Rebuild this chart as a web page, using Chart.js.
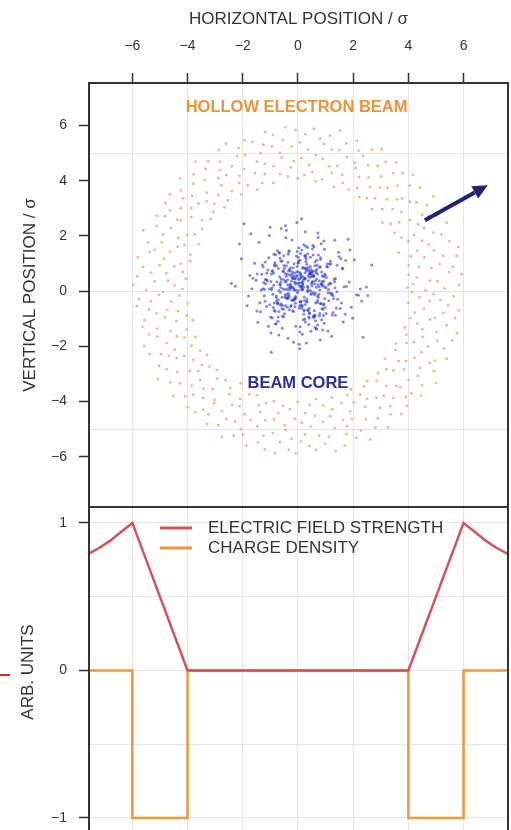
<!DOCTYPE html>
<html>
<head>
<meta charset="utf-8">
<script src="https://cdn.jsdelivr.net/npm/chart.js@4.4.1/dist/chart.umd.min.js"></script>
<style>
  html, body { margin: 0; padding: 0; background: #fff; overflow: hidden; }
  #wrap { position: relative; width: 511px; height: 830px; }
  #top { position: absolute; left: 0; top: 0; }
  #bot { position: absolute; left: 0; top: 507px; }
</style>
</head>
<body>
<div id="wrap">
  <canvas id="top" width="511" height="507"></canvas>
  <canvas id="bot" width="511" height="330"></canvas>
</div>
<script>
// ticks
const xTicks = [-6, -4, -2, 0, 2, 4, 6];
const yTicks = [-6, -4, -2, 0, 2, 4, 6];
const yGridTop = [-5, 0, 5];
const yTicksBottom = [-1, 0, 1];
const yGridBottom = [-1, -0.5, 0, 0.5, 1];

// beam core (sigma units)
const coreX = [0.23,-0.71,1.34,-0.08,0.52,-1.63,0.91,0.04,-0.42,2.12,-0.93,0.31,0.77,-1.18,0.15,-0.29,1.47,-0.56,0.44,-2.27,
0.68,-0.12,0.37,1.09,-0.84,0.02,-1.41,0.59,1.86,-0.35,0.13,-0.61,0.95,-0.19,2.48,-1.02,0.27,0.81,-0.47,1.22,
-0.66,0.09,1.58,-1.27,0.41,-0.03,0.73,-1.79,0.18,0.62,-0.38,1.14,-0.89,0.35,-0.14,1.71,-0.52,0.06,-2.05,0.88,
0.47,-1.09,0.21,1.39,-0.26,0.64,-0.77,0.11,2.31,-0.45,0.98,-1.36,0.28,-0.07,0.55,-0.98,1.62,0.17,-0.31,0.83,
-1.52,0.39,0.01,-0.64,1.27,-0.21,0.71,-1.13,0.46,1.93,-0.81,0.24,-0.36,1.05,-0.02,0.58,-1.71,0.33,0.87,-0.49,
0.14,1.44,-0.92,0.67,-0.17,2.67,-0.58,0.29,-1.24,0.76,0.05,-0.43,1.18,-0.73,0.49,-1.95,0.92,-0.11,0.36,1.61,
-0.27,0.53,-1.06,0.19,1.03,-0.54,0.84,-0.15,-1.48,0.42,1.76,-0.68,0.07,0.61,-0.33,1.31,-0.86,0.26,-2.41,0.72,
0.38,-0.79,1.11,0.03,-0.24,0.86,-1.33,0.57,2.04,-0.41,0.12,-0.97,0.69,-0.06,1.53,-0.62,0.32,-1.19,0.94,-0.13,
1.24,-0.46,0.08,-1.57,0.63,0.22,-0.74,1.67,-0.09,0.45,-1.01,0.79,-0.28,2.19,-0.65,0.16,0.99,-0.39,-1.84,0.54,
-0.18,0.74,-0.87,1.36,0.11,-0.53,0.89,-1.29,0.34,1.82,-0.23,0.48,-0.69,0.02,1.16,-1.45,0.66,-0.04,0.27,-0.94,
0.61,-1.14,1.49,-0.32,0.18,2.36,-0.76,0.43,-0.11,0.96,-1.67,0.25,0.71,-0.44,1.29,-0.09,-0.83,0.51,1.73,-0.57,
0.09,-0.34,0.82,-1.21,0.39,1.07,-0.62,0.14,-2.12,0.56,0.93,-0.16,1.42,-0.88,0.31,-0.51,0.64,1.98,-1.04,0.21,
-0.41,1.19,0.03,-0.72,0.58,-1.38,0.85,0.26,-0.19,1.56,-0.96,0.47,0.12,-0.61,2.53,-0.27,0.78,-1.11,0.35,0.06,
1.02,-0.52,0.29,-1.74,0.67,-0.08,1.33,-0.37,0.49,-0.99,0.17,1.88,-0.63,0.38,-1.26,0.81,0.01,-0.45,1.21,-0.22,
0.55,-0.86,0.13,1.64,-0.31,0.72,-1.49,0.24,0.97,-0.14,2.26,-0.69,0.41,-0.03,1.12,-1.17,0.62,-0.36,0.19,-0.78,
0.12,-0.45,0.78,-0.21,0.33,-0.88,0.56,0.04,-0.62,1.17,-0.15,0.41,-0.37,0.69,0.08,-1.03,0.27,-0.54,0.93,-0.09,
0.48,-0.73,0.16,0.82,-0.31,0.02,-0.96,0.59,1.24,-0.18,0.35,-0.67,0.71,-0.05,1.41,-0.49,0.22,0.61,-0.83,0.11,
-0.26,0.52,-1.14,0.37,0.86,-0.42,0.13,-0.71,0.47,1.02,-0.12,0.29,-0.58,0.76,-0.34,0.05,1.33,-0.91,0.24,-0.07,
0.64,-0.29,0.91,-0.52,0.18,-1.22,0.43,0.07,-0.39,0.84,-0.77,0.31,1.11,-0.16,0.57,-0.63,0.01,0.95,-0.44,0.26,
-0.11,0.68,-0.82,0.39,0.14,-0.56,1.06,-0.24,0.49,-1.31,0.21,0.73,-0.35,0.09,0.88,-0.69,0.34,-0.03,1.19,-0.47,
0.55,-0.19,0.27,-0.93,0.81,0.06,-0.61,0.44,-0.14,1.27,-0.38,0.62,-0.79,0.17,0.98,-0.27,0.36,-1.07,0.53,-0.08,
0.71,-0.51,0.19,0.87,-0.33,0.45,-0.74,0.03,1.09,-0.22,0.58,-0.98,0.28,-0.12,0.79,-0.57,0.15,1.36,-0.41,0.32,
-0.66,0.42,0.97,-0.28,0.11,-0.85,0.63,-0.04,0.38,-1.18,0.74,0.23,-0.47,0.92,-0.17,0.51,-0.72,0.07,0.66,-0.36];
const coreY = [-0.34,0.82,0.11,-1.27,1.53,0.47,-0.66,0.29,2.21,-0.13,0.74,-1.88,0.38,1.06,-0.52,0.05,1.41,-0.91,0.63,0.18,
1.12,-0.27,0.56,-1.44,0.91,0.02,1.77,-0.71,0.33,-0.08,2.62,0.44,-1.16,0.68,0.15,-0.49,1.29,0.87,-0.21,-1.63,
0.52,1.36,-0.43,0.09,-0.97,0.71,1.94,-0.18,0.26,-1.32,0.61,0.99,-0.59,1.58,0.03,-0.84,0.42,-2.09,1.17,0.35,
-0.12,0.77,1.68,-0.61,0.21,-1.07,0.93,0.48,-0.36,2.37,0.14,-0.75,1.24,-0.24,0.58,-1.52,0.83,0.07,1.46,-0.45,
0.39,-0.93,1.03,0.24,-0.17,1.85,-1.23,0.65,0.01,-0.58,1.32,0.46,-1.71,0.88,-0.06,0.57,2.08,-0.39,0.19,-0.82,
1.49,-0.29,0.72,-1.36,0.12,0.95,-0.64,1.63,0.31,-0.11,-1.92,0.54,1.08,-0.47,0.27,2.44,-0.88,0.66,-0.03,0.81,
-0.56,0.36,1.21,-1.04,0.49,0.08,1.72,-0.33,0.62,-0.79,0.17,1.38,-1.48,0.92,-0.14,0.43,-0.69,2.15,0.28,-0.41,
0.86,-1.18,0.23,1.57,-0.52,0.69,0.04,-0.96,1.14,-0.26,0.51,-2.21,0.79,1.27,-0.63,0.13,0.97,-0.37,1.82,0.32,
-0.09,0.64,-1.29,1.01,0.37,-0.68,1.46,0.16,-0.44,0.89,2.31,-0.81,0.25,-0.15,1.19,-1.56,0.58,0.06,-0.53,1.66,
0.45,-0.22,1.34,-0.87,0.18,0.73,-1.41,0.96,0.02,1.88,-0.32,0.54,-0.74,1.09,0.29,-1.13,0.67,2.49,-0.48,0.11,
-0.92,0.41,1.25,-0.19,0.83,-1.67,0.34,0.71,-0.57,1.52,0.09,-1.01,0.62,1.93,-0.28,0.47,-0.73,0.19,1.11,-1.34,
0.66,1.43,-0.46,0.07,-1.21,0.88,0.33,-0.62,1.71,-0.05,0.52,-1.85,0.94,0.21,-0.37,1.28,0.74,-0.98,2.02,0.14,
-0.25,0.98,0.43,-1.09,1.61,-0.42,0.26,0.85,-0.71,1.17,0.05,-1.45,0.59,2.27,-0.16,0.73,-0.89,0.38,1.35,-0.54,
0.12,-0.66,1.07,0.57,-1.38,0.31,1.84,-0.23,0.68,-0.94,0.22,1.49,-0.51,0.04,0.87,-1.76,1.23,0.36,-0.12,0.61,
1.31,-0.43,0.16,-1.12,0.78,2.11,-0.72,0.44,-0.27,0.99,0.08,-1.59,0.63,1.44,-0.35,0.27,-0.86,1.05,0.51,-0.18,
0.31,-0.52,0.87,0.14,-0.28,0.66,-0.91,0.43,1.08,-0.07,0.55,-0.63,0.22,0.94,-0.38,0.09,-1.12,0.71,0.36,-0.19,
0.78,-0.44,0.05,1.21,-0.67,0.29,0.62,-0.13,-0.86,0.47,0.18,1.39,-0.34,0.57,-0.02,0.83,-0.71,0.26,1.03,-0.49,
0.12,0.69,-0.56,0.38,-1.04,0.92,0.07,-0.31,0.64,-0.81,0.45,1.17,-0.22,0.16,0.73,-0.62,0.34,-0.11,1.28,0.03,
-0.42,0.58,0.21,-0.93,0.86,-0.17,0.49,1.12,-0.58,0.27,-0.36,0.81,0.06,-0.74,0.52,-0.04,1.01,-0.47,0.33,0.67,
-0.26,0.44,-1.19,0.76,0.15,-0.52,0.98,0.37,-0.09,0.61,-0.84,0.23,1.34,-0.39,0.56,0.02,-0.68,0.89,0.28,-0.14,
0.72,-0.33,0.47,-0.97,1.15,0.19,-0.46,0.63,0.08,-0.77,0.41,1.06,-0.24,0.32,-0.59,0.84,0.13,-1.27,0.54,0.25,
-0.18,0.93,0.39,-0.64,0.11,1.23,-0.43,0.68,-0.06,0.51,-0.89,0.35,0.79,-0.29,0.04,1.09,-0.55,0.46,-0.12,0.74,
0.24,-0.81,0.62,0.17,-0.37,0.96,-0.08,0.53,-0.71,0.42,1.31,-0.21,0.07,-0.48,0.85,0.31,-0.94,0.58,0.14,-0.27];

// hollow beam ring, angle (deg) and radius (sigma)
const ringTheta = [0.3,1.1,1.8,2.2,3.4,4.1,4.6,5.9,6.5,7.2,8.4,8.9,9.7,10.8,11.3,12.5,13.1,13.6,14.9,15.4,16.7,17.2,18.3,18.8,19.6,20.9,21.5,22.1,23.4,24.2,24.7,25.8,26.6,27.3,28.5,29.0,29.8,31.1,31.6,32.4,33.7,34.2,35.0,35.9,36.8,37.5,38.6,39.1,40.3,40.9,41.6,42.8,43.3,44.2,45.4,45.9,46.7,47.8,48.4,49.1,50.2,51.0,51.7,52.6,53.5,54.1,55.3,55.8,56.9,57.5,58.2,59.4,60.1,60.8,61.9,62.4,63.5,64.3,64.9,66.1,66.7,67.4,68.6,69.2,69.9,71.0,71.8,72.5,73.6,74.1,75.2,75.9,76.6,77.8,78.3,79.4,80.0,80.9,81.7,82.6,83.2,84.4,84.9,86.0,86.8,87.3,88.5,89.2,90.1,90.8,91.9,92.5,93.3,94.4,95.0,95.7,96.9,97.4,98.6,99.1,100.2,101.0,101.6,102.8,103.3,104.5,105.1,105.8,107.0,107.6,108.3,109.5,110.0,111.2,111.9,112.5,113.7,114.2,115.4,116.0,116.8,117.9,118.5,119.3,120.4,121.1,121.7,122.9,123.4,124.6,125.2,125.9,127.1,127.7,128.4,129.6,130.1,131.3,131.8,132.7,133.8,134.3,135.5,136.2,136.8,138.0,138.6,139.3,140.5,141.0,142.1,142.9,143.5,144.7,145.2,146.4,147.0,147.7,148.9,149.4,150.6,151.2,151.9,153.1,153.6,154.8,155.3,156.1,157.2,157.9,158.5,159.7,160.3,161.4,162.0,162.8,163.9,164.5,165.2,166.4,166.9,168.1,168.7,169.4,170.6,171.1,172.3,172.8,173.7,174.8,175.4,176.1,177.3,177.8,179.0,179.6,180.4,181.5,182.1,182.9,184.0,184.6,185.3,186.5,187.0,188.2,188.9,189.5,190.7,191.2,192.4,193.0,193.8,194.9,195.5,196.2,197.4,197.9,199.1,199.7,200.5,201.6,202.2,203.0,204.1,204.7,205.4,206.6,207.1,208.3,208.9,209.7,210.8,211.4,212.1,213.3,213.8,215.0,215.6,216.4,217.5,218.1,218.8,220.0,220.5,221.7,222.3,223.0,224.2,224.7,225.9,226.5,227.3,228.4,229.0,229.7,230.9,231.4,232.6,233.2,234.0,235.1,235.7,236.4,237.6,238.1,239.3,239.9,240.7,241.8,242.4,243.1,244.3,244.8,246.0,246.6,247.4,248.5,249.1,249.8,251.0,251.5,252.7,253.3,254.1,255.2,255.8,256.5,257.7,258.2,259.4,260.0,260.8,261.9,262.5,263.2,264.4,264.9,266.1,266.7,267.5,268.6,269.2,269.9,271.1,271.6,272.8,273.4,274.2,275.3,275.9,276.6,277.8,278.3,279.5,280.1,280.9,282.0,282.6,283.3,284.5,285.0,286.2,286.8,287.6,288.7,289.3,290.0,291.2,291.7,292.9,293.5,294.3,295.4,296.0,296.7,297.9,298.4,299.6,300.2,301.0,302.1,302.7,303.4,304.6,305.1,306.3,306.9,307.7,308.8,309.4,310.1,311.3,311.8,313.0,313.6,314.4,315.5,316.1,316.8,318.0,318.5,319.7,320.3,321.1,322.2,322.8,323.5,324.7,325.2,326.4,327.0,327.8,328.9,329.5,330.2,331.4,331.9,333.1,333.7,334.5,335.6,336.2,336.9,338.1,338.6,339.8,340.4,341.2,342.3,342.9,343.6,344.8,345.3,346.5,347.1,347.9,349.0,349.6,350.3,351.5,352.0,353.2,353.8,354.6,355.7,356.3,357.0,358.2,358.7,359.5];
const ringR = [4.62,5.31,3.97,5.84,4.18,5.07,4.79,5.96,4.33,5.52,4.05,5.68,4.91,5.23,4.47,5.89,4.12,5.41,4.74,6.03,
5.15,4.28,5.77,4.56,5.02,3.91,5.59,4.85,5.34,4.39,5.93,4.67,5.11,4.22,5.73,4.98,5.46,4.09,5.28,4.81,
5.62,4.43,5.99,4.15,5.36,4.72,5.19,3.94,5.81,4.54,5.05,4.89,5.57,4.26,5.92,4.63,5.25,4.01,5.71,4.95,
4.37,5.49,4.78,5.87,4.19,5.13,4.58,5.66,4.07,5.38,4.84,5.97,4.31,5.21,4.69,5.78,4.11,5.44,4.93,5.09,
5.54,4.24,5.85,4.51,5.17,3.99,5.63,4.76,5.32,4.45,6.01,4.66,5.27,4.14,5.75,4.87,5.42,4.03,5.58,4.97,
4.35,5.91,4.59,5.14,4.21,5.69,4.82,5.39,4.08,5.83,4.71,5.24,4.49,5.95,4.17,5.51,4.88,5.06,4.29,5.74,
5.33,4.61,5.88,4.02,5.45,4.77,5.18,4.41,5.65,4.92,4.13,5.79,4.55,5.29,3.96,5.61,4.83,5.37,4.25,5.94,
4.68,5.12,4.46,5.86,4.06,5.47,4.94,5.22,4.34,5.72,5.01,4.73,5.55,4.16,5.98,4.52,5.26,4.04,5.67,4.86,
4.38,5.43,4.64,5.9,4.2,5.16,4.8,5.6,4.1,5.35,4.9,5.82,4.32,5.2,4.7,5.76,4.14,5.48,4.96,5.08,
5.53,4.27,5.8,4.5,5.13,3.98,5.64,4.75,5.3,4.44,6.02,4.65,5.24,4.11,5.7,4.85,5.4,4.05,5.56,4.99,
4.36,5.93,4.57,5.1,4.23,5.68,4.81,5.37,4.09,5.85,4.72,5.21,4.48,5.97,4.18,5.5,4.89,5.04,4.3,5.77,
5.34,4.6,5.87,4.03,5.44,4.78,5.19,4.4,5.66,4.91,4.12,5.78,4.54,5.28,3.95,5.62,4.84,5.36,4.26,5.92,
4.69,5.11,4.45,5.84,4.07,5.46,4.95,5.23,4.33,5.71,5.02,4.74,5.54,4.15,5.99,4.53,5.27,4.02,5.69,4.87,
4.39,5.42,4.63,5.89,4.21,5.15,4.79,5.59,4.1,5.33,4.92,5.81,4.31,5.18,4.71,5.75,4.16,5.49,4.97,5.07,
5.52,4.28,5.83,4.49,5.14,3.93,5.65,4.76,5.31,4.43,5.96,4.67,5.25,4.13,5.73,4.86,5.41,4.06,5.57,4.98,
4.37,5.9,4.58,5.12,4.22,5.67,4.83,5.38,4.08,5.86,4.73,5.22,4.47,5.94,4.19,5.51,4.88,5.05,4.29,5.76,
5.35,4.62,5.88,4.01,5.45,4.77,5.2,4.42,5.63,4.93,4.14,5.79,4.56,5.29,3.97,5.61,4.82,5.39,4.24,5.95,
4.68,5.13,4.46,5.85,4.04,5.47,4.94,5.21,4.35,5.72,5.03,4.75,5.55,4.17,5.98,4.51,5.26,4.05,5.68,4.85,
4.38,5.44,4.64,5.91,4.2,5.16,4.8,5.58,4.11,5.34,4.9,5.82,4.32,5.19,4.7,5.74,4.15,5.48,4.96,5.09,
5.53,4.27,5.84,4.5,5.15,3.99,5.64,4.77,5.32,4.44,6.0,4.66,5.23,4.12,5.71,4.87,5.43,4.03,5.56,4.99,
4.36,5.92,4.59,5.11,4.23,5.69,4.81,5.36,4.09,5.87,4.72,5.24,4.48,5.96,4.18,5.52,4.89,5.06,4.3,5.78,
5.33,4.61,5.86,4.02,5.46,4.78,5.17,4.41,5.65,4.92,4.13,5.8,4.55,5.28,3.96,5.6,4.84,5.37,4.25,5.93,
4.69,5.12,4.45,5.83,4.06,5.45,4.95,5.22,4.34,5.7,5.01,4.74,5.54,4.16,5.97,4.52,5.27,4.04,5.66,4.86,
4.4,5.41,4.63,5.89,4.21,5.14,4.79,5.57];

// lower panel lines
const seriesNames = ["ELECTRIC FIELD STRENGTH", "CHARGE DENSITY"];
const fieldX = [-7.6, -7.2, -6.8, -6.4, -6, -4, 4, 6, 6.4, 6.8, 7.2, 7.6];
const fieldY = [0.79, 0.83, 0.88, 0.94, 1, 0, 0, 1, 0.94, 0.88, 0.83, 0.79];
const chargeX = [-7.6, -6, -6, -4, -4, 4, 4, 6, 6, 7.6];
const chargeY = [0, 0, -1, -1, 0, 0, -1, -1, 0, 0];

const FONT = "'Liberation Sans', Arial, Helvetica, sans-serif";
Chart.defaults.font.family = FONT;
Chart.defaults.color = '#333';

const GRID = '#e4e4e4';
const INK = '#333333';
const X_MIN = -7.57, X_MAX = 7.61;

function fmt(v) {
  return v < 0 ? '\u2212' + Math.abs(v) : String(v);
}

// axis sizes are fixed by hand, no extra room for tick labels
function fixSize(w, h) {
  return ax => {
    if (w !== null) ax.width = w;
    if (h !== null) ax.height = h;
    ax.paddingTop = 0;
    ax.paddingBottom = 0;
    ax.paddingLeft = 0;
    ax.paddingRight = 0;
  };
}

// frame + labels + arrow on upper panel
const topDecor = {
  id: 'topDecor',
  afterDatasetsDraw(chart) {
    const { ctx, chartArea: a, scales: { x, y } } = chart;
    ctx.save();
    ctx.font = 'bold 16.5px ' + FONT;
    ctx.textAlign = 'center';
    ctx.textBaseline = 'middle';
    ctx.fillStyle = '#f0923a';
    ctx.fillText('HOLLOW ELECTRON BEAM', x.getPixelForValue(-0.05), y.getPixelForValue(6.67));
    ctx.fillStyle = '#2b2f9e';
    ctx.fillText('BEAM CORE', x.getPixelForValue(0), y.getPixelForValue(-3.33));

    // arrow
    const x0 = x.getPixelForValue(4.6), y0 = y.getPixelForValue(2.57);
    const x1 = x.getPixelForValue(6.88), y1 = y.getPixelForValue(3.84);
    const ang = Math.atan2(y1 - y0, x1 - x0);
    const hl = 15, hw = 7;
    const bx = x1 - hl * Math.cos(ang), by = y1 - hl * Math.sin(ang);
    ctx.strokeStyle = '#1b2372';
    ctx.fillStyle = '#1b2372';
    ctx.lineWidth = 4;
    ctx.beginPath();
    ctx.moveTo(x0, y0);
    ctx.lineTo(bx, by);
    ctx.stroke();
    ctx.beginPath();
    ctx.moveTo(x1, y1);
    ctx.lineTo(bx + hw * Math.sin(ang), by - hw * Math.cos(ang));
    ctx.lineTo(bx - hw * Math.sin(ang), by + hw * Math.cos(ang));
    ctx.closePath();
    ctx.fill();

    ctx.strokeStyle = INK;
    ctx.lineWidth = 2;
    ctx.strokeRect(a.left, a.top, a.right - a.left, a.bottom - a.top);
    ctx.restore();
  }
};

// frame + legend on lower panel
const botDecor = {
  id: 'botDecor',
  afterDatasetsDraw(chart) {
    const { ctx, chartArea: a } = chart;
    ctx.save();
    ctx.font = '17px ' + FONT;
    ctx.textBaseline = 'middle';
    chart.data.datasets.forEach((ds, i) => {
      const ly = a.top + 21 + i * 20;
      ctx.strokeStyle = ds.borderColor;
      ctx.lineWidth = 3;
      ctx.beginPath();
      ctx.moveTo(a.left + 71, ly);
      ctx.lineTo(a.left + 103, ly);
      ctx.stroke();
      ctx.fillStyle = INK;
      ctx.fillText(ds.label, a.left + 119, ly);
    });
    ctx.strokeStyle = INK;
    ctx.lineWidth = 2;
    ctx.strokeRect(a.left, a.top, a.right - a.left, a.bottom - a.top);
    // small red mark left of the axis
    ctx.strokeStyle = '#e3261c';
    ctx.beginPath();
    ctx.moveTo(0, 168);
    ctx.lineTo(10, 168);
    ctx.stroke();
    ctx.restore();
  }
};

const ringPts = [];
for (let i = 0; i < Math.min(ringTheta.length, ringR.length); i++) {
  const t = ringTheta[i] * Math.PI / 180;
  ringPts.push({ x: ringR[i] * Math.cos(t), y: ringR[i] * Math.sin(t) });
}
const corePts = coreX.map((v, i) => ({ x: v, y: coreY[i] }));

new Chart(document.getElementById('top'), {
  type: 'scatter',
  data: {
    datasets: [
      { label: 'beam core', data: corePts, pointRadius: 1.5, pointBorderWidth: 0, backgroundColor: 'rgba(45,60,200,0.6)' },
      { label: 'hollow beam', data: ringPts, pointRadius: 1.4, pointBorderWidth: 0, backgroundColor: 'rgba(240,145,70,0.65)' }
    ]
  },
  options: {
    responsive: false,
    animation: false,
    events: [],
    layout: { autoPadding: false, padding: { left: 0, right: 3, top: 0, bottom: 0 } },
    plugins: { legend: { display: false }, tooltip: { enabled: false } },
    scales: {
      x: {
        type: 'linear', position: 'top', min: X_MIN, max: X_MAX,
        afterBuildTicks: ax => { ax.ticks = xTicks.map(v => ({ value: v })); },
        afterFit: fixSize(null, 83),
        border: { display: false },
        grid: { color: GRID, tickColor: INK, tickLength: 10, tickWidth: 1.5 },
        ticks: { font: { size: 14 }, color: INK, padding: 18, maxRotation: 0, callback: fmt },
        title: { display: true, text: 'HORIZONTAL POSITION / \u03c3', font: { size: 17 }, color: INK, padding: { top: 9, bottom: 0 } }
      },
      y: {
        type: 'linear', position: 'left', min: -7.82, max: 7.54, weight: 1,
        afterBuildTicks: ax => { ax.ticks = yTicks.map(v => ({ value: v })); },
        afterFit: fixSize(89, null),
        border: { display: false },
        grid: { drawOnChartArea: false, tickColor: INK, tickLength: 10, tickWidth: 1.5 },
        ticks: { font: { size: 14 }, color: INK, padding: 12, callback: fmt },
        title: { display: true, text: 'VERTICAL POSITION / \u03c3', font: { size: 17 }, color: INK, padding: { top: 20, bottom: 0 } }
      },
      yg: {
        type: 'linear', position: 'left', min: -7.82, max: 7.54, weight: 0,
        afterBuildTicks: ax => { ax.ticks = yGridTop.map(v => ({ value: v })); },
        afterFit: fixSize(0, null),
        border: { display: false },
        grid: { color: GRID, drawTicks: false },
        ticks: { display: false }
      }
    }
  },
  plugins: [topDecor]
});

new Chart(document.getElementById('bot'), {
  type: 'line',
  data: {
    datasets: [
      { label: seriesNames[0], data: fieldX.map((v, i) => ({ x: v, y: fieldY[i] })), borderColor: '#d4525a', borderWidth: 2.5, pointRadius: 0, tension: 0, fill: false },
      { label: seriesNames[1], data: chargeX.map((v, i) => ({ x: v, y: chargeY[i] })), borderColor: '#f0963c', borderWidth: 2.5, pointRadius: 0, tension: 0, fill: false }
    ]
  },
  options: {
    responsive: false,
    animation: false,
    events: [],
    layout: { autoPadding: false, padding: { left: 0, right: 3, top: 0, bottom: 0 } },
    plugins: { legend: { display: false }, tooltip: { enabled: false } },
    scales: {
      x: {
        type: 'linear', position: 'bottom', min: X_MIN, max: X_MAX,
        afterBuildTicks: ax => { ax.ticks = xTicks.map(v => ({ value: v })); },
        afterFit: fixSize(null, 0),
        border: { display: false },
        grid: { color: GRID, drawTicks: false },
        ticks: { display: false }
      },
      y: {
        type: 'linear', position: 'left', min: -1.129, max: 1.108, weight: 1,
        afterBuildTicks: ax => { ax.ticks = yTicksBottom.map(v => ({ value: v })); },
        afterFit: fixSize(89, null),
        border: { display: false },
        grid: { drawOnChartArea: false, tickColor: INK, tickLength: 10, tickWidth: 1.5 },
        ticks: { font: { size: 14 }, color: INK, padding: 12, callback: fmt },
        title: { display: true, text: 'ARB. UNITS', font: { size: 17 }, color: INK, padding: { top: 18, bottom: 0 } }
      },
      yg: {
        type: 'linear', position: 'left', min: -1.129, max: 1.108, weight: 0,
        afterBuildTicks: ax => { ax.ticks = yGridBottom.map(v => ({ value: v })); },
        afterFit: fixSize(0, null),
        border: { display: false },
        grid: { color: GRID, drawTicks: false },
        ticks: { display: false }
      }
    }
  },
  plugins: [botDecor]
});
</script>
</body>
</html>
